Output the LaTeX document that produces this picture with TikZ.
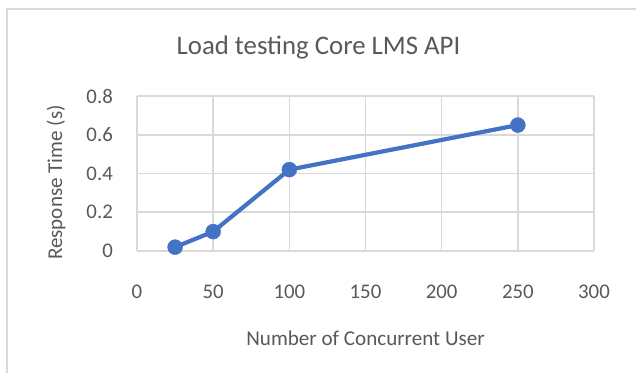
\documentclass[tikz,border=0pt]{standalone}
\usepackage{fontspec}
\setmainfont{Carlito}
\definecolor{txt}{HTML}{595959}
\definecolor{grid}{HTML}{D9D9D9}
\definecolor{series}{HTML}{4472C4}
\begin{document}
\begin{tikzpicture}[x=1bp,y=-1bp,
  frameline/.style={draw=grid,line width=2bp},
  gridline/.style={draw=grid,line width=1.6bp},
  ticklabel/.style={text=txt,font=\fontsize{20.8bp}{24bp}\selectfont,inner sep=0pt},
  axistitle/.style={text=txt,font=\fontsize{21.1bp}{25bp}\selectfont,inner sep=0pt},
  charttitle/.style={text=txt,font=\fontsize{26.8bp}{31bp}\selectfont,inner sep=0pt},
  datapoint/.style={circle,fill=series,draw=series,inner sep=0pt,minimum size=15bp},
  seriesline/.style={draw=series,line width=4.2bp,line join=round}]
\useasboundingbox (0,0) rectangle (636,373);
\fill[white] (0,0) rectangle (636,373);

% chart frame (top and left edges)
\coordinate (frameTL) at (7,9);
\coordinate (frameTR) at (636,9);
\coordinate (frameBL) at (7,373);
\draw[frameline] (frameTR) -- (frameTL) -- (frameBL);

% title
\node[charttitle] (title) at (318.5,47) {Load testing Core LMS API};

% plot area in data coordinates
\begin{scope}[shift={(137,251)},xscale=457/300,yscale=-193.75]
  \foreach \xv in {0,50,...,300}
    \draw[gridline] (\xv,0) -- (\xv,0.8);
  \foreach \yv in {0,0.2,0.4,0.6,0.8}
    \draw[gridline] (0,\yv) -- (300,\yv);
  \coordinate (c1) at (25,0.02);
  \coordinate (c2) at (50,0.1);
  \coordinate (c3) at (100,0.42);
  \coordinate (c4) at (250,0.65);
\end{scope}
\draw[seriesline] (c1) -- (c2) -- (c3) -- (c4);
\foreach \n in {1,2,3,4}
  \node[datapoint] (p\n) at (c\n) {};

% y tick labels
\foreach \yv/\lab in {0/0,0.2/0.2,0.4/0.4,0.6/0.6,0.8/0.8}
  \node[ticklabel,anchor=east] (yl\lab) at (113,251-193.75*\yv) {\lab};
% x tick labels
\foreach \xv in {0,50,...,300}
  \node[ticklabel] (xl\xv) at (137+457/300*\xv,292) {\xv};

% axis titles
\node[axistitle] (xtitle) at (365.5,338.5) {Number of Concurrent User};
\node[axistitle,rotate=90] (ytitle) at (56,182.5) {Response Time (s)};
\end{tikzpicture}
\end{document}
